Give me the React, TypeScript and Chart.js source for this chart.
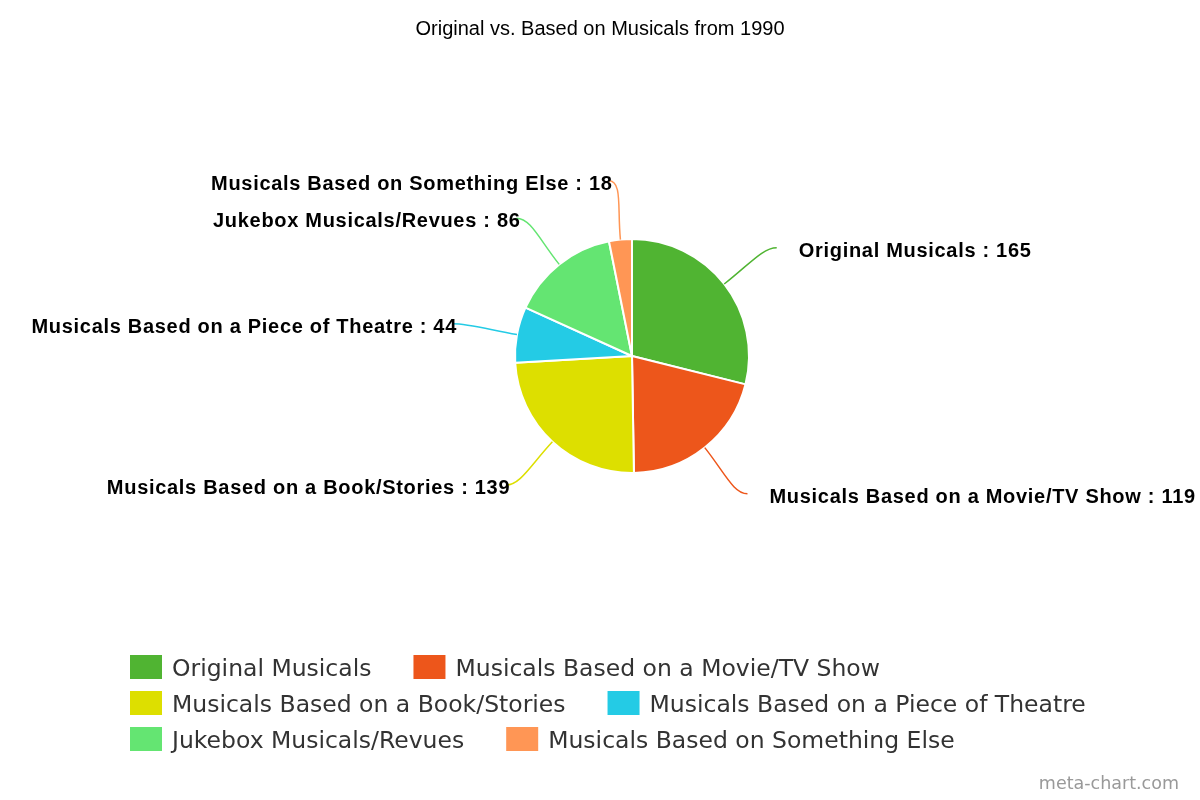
import React, { useEffect, useRef } from "react";
import { Chart, registerables } from "chart.js";

Chart.register(...registerables);

const TITLE = "Original vs. Based on Musicals from 1990";
const WATERMARK = "meta-chart.com";
const categories = [
  "Original Musicals",
  "Musicals Based on a Movie/TV Show",
  "Musicals Based on a Book/Stories",
  "Musicals Based on a Piece of Theatre",
  "Jukebox Musicals/Revues",
  "Musicals Based on Something Else",
];
const values = [165, 119, 139, 44, 86, 18];
const colors = ["#50B432", "#ED561B", "#DDDF00", "#24CBE5", "#64E572", "#FF9655"];

const LABEL_FONT = 'bold 20px "Liberation Sans", Arial, sans-serif';
const LEGEND_FONT = '23.5px "DejaVu Sans", sans-serif';

const decorations = {
  id: "decorations",
  afterDatasetsDraw(chart: any) {
    const ctx = chart.ctx as CanvasRenderingContext2D;
    const meta = chart.getDatasetMeta(0);
    const labels: string[] = chart.data.labels;
    const data: number[] = chart.data.datasets[0].data;
    const bg: string[] = chart.data.datasets[0].backgroundColor;

    // title
    ctx.save();
    ctx.fillStyle = "#000";
    ctx.font = '20px "Liberation Sans", Arial, sans-serif';
    ctx.textAlign = "center";
    ctx.textBaseline = "alphabetic";
    ctx.fillText(TITLE, 600, 35);
    ctx.restore();

    // outside labels with connectors
    meta.data.forEach((arc: any, i: number) => {
      const p = arc.getProps(["x", "y", "startAngle", "endAngle", "outerRadius"], true);
      const mid = (p.startAngle + p.endAngle) / 2;
      const c = Math.cos(mid);
      const s = Math.sin(mid);
      const side = c >= 0 ? 1 : -1;
      const r = p.outerRadius;
      const R = r + 59;
      const ax = p.x + R * c + side * 6;
      const ay = p.y + R * s;
      const ex = p.x + r * c;
      const ey = p.y + r * s;
      const bx = p.x + (r + 32) * c;
      const by = p.y + (r + 32) * s;
      ctx.save();
      ctx.strokeStyle = bg[i];
      ctx.lineWidth = 1.5;
      ctx.beginPath();
      ctx.moveTo(ex, ey);
      ctx.bezierCurveTo(bx, by, ax - side * 14, ay, ax, ay);
      ctx.stroke();

      ctx.fillStyle = "#000";
      ctx.font = LABEL_FONT;
      (ctx as any).letterSpacing = "0.7px";
      ctx.textBaseline = "alphabetic";
      const text = `${labels[i]} : ${data[i]}`;
      if (side > 0) {
        ctx.textAlign = "left";
        ctx.fillText(text, ax + 22, ay + 9);
      } else {
        ctx.textAlign = "right";
        ctx.fillText(text, ax + 4, ay + 9);
      }
      ctx.restore();
    });

    // legend
    ctx.save();
    ctx.font = LEGEND_FONT;
    ctx.textBaseline = "alphabetic";
    ctx.textAlign = "left";
    const startX = 130;
    const rowY = [667, 703, 739];
    const perRow = 2;
    labels.forEach((lab, i) => {
      const row = Math.floor(i / perRow);
      const col = i % perRow;
      let x = startX;
      if (col === 1) {
        const prev = labels[i - 1];
        x = startX + 42 + ctx.measureText(prev).width + 42;
      }
      const cy = rowY[row];
      ctx.fillStyle = bg[i];
      ctx.fillRect(x, cy - 12, 32, 24);
      ctx.fillStyle = "#333";
      ctx.fillText(lab, x + 42, cy + 9);
    });
    ctx.restore();

    // watermark
    ctx.save();
    ctx.font = '17.5px "DejaVu Sans", sans-serif';
    ctx.fillStyle = "#999";
    ctx.textAlign = "right";
    ctx.fillText(WATERMARK, 1179, 789);
    ctx.restore();
  },
};

export default function App() {
  const ref = useRef<HTMLCanvasElement>(null);
  useEffect(() => {
    if (!ref.current) return;
    const chart = new Chart(ref.current, {
      type: "pie",
      data: {
        labels: categories,
        datasets: [
          {
            data: values,
            backgroundColor: colors,
            borderColor: "#fff",
            borderWidth: 2,
            hoverOffset: 0,
            radius: 117,
          } as any,
        ],
      },
      options: {
        responsive: false,
        animation: false,
        devicePixelRatio: 1,
        events: [],
        layout: { padding: { left: 264, right: 200, top: 200, bottom: 288 } },
        plugins: {
          legend: { display: false },
          title: { display: false },
          tooltip: { enabled: false },
        },
      },
      plugins: [decorations],
    });
    return () => chart.destroy();
  }, []);
  return (
    <div style={{ position: "fixed", left: 0, top: 0, width: 1200, height: 800, background: "#fff" }}>
      <canvas ref={ref} width={1200} height={800} style={{ display: "block", width: 1200, height: 800 }} />
    </div>
  );
}
